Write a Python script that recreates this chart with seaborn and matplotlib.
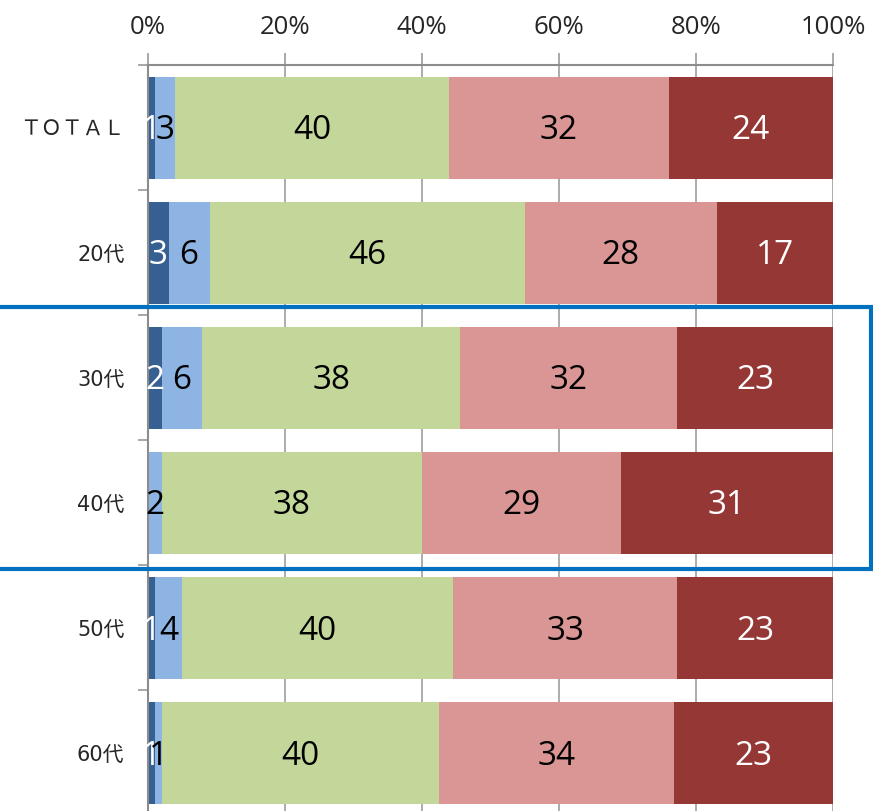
import numpy as np
import pandas as pd
import matplotlib
matplotlib.use("Agg")
import matplotlib.pyplot as plt
from matplotlib.patches import Rectangle
import seaborn as sns

sns.set_theme(style="white")
plt.rcParams['font.family'] = ['Noto Sans CJK JP', 'DejaVu Sans']

# Survey answers by age group (percent, rounded)
categories = ["ＴＯＴＡＬ", "20代", "30代", "40代", "50代", "60代"]
seg1 = [1, 3, 2, 0, 1, 1]
seg2 = [3, 6, 6, 2, 4, 1]
seg3 = [40, 46, 38, 38, 40, 40]
seg4 = [32, 28, 32, 29, 33, 34]
seg5 = [24, 17, 23, 31, 23, 23]
xticks = [0, 20, 40, 60, 80, 100]

series = [seg1, seg2, seg3, seg4, seg5]
colors = ["#376092", "#8EB4E3", "#C4D79B", "#D99694", "#953735"]
label_colors = ["white", "black", "black", "black", "white"]

vals = np.array(series, dtype=float)          # shape (5, n)
share = vals / vals.sum(axis=0) * 100          # 100% stacked
cum = np.cumsum(share, axis=0)

W, H = 873, 811
fig = plt.figure(figsize=(W / 100, H / 100), dpi=100)
ax = fig.add_axes([148 / W, 1 - 815.5 / H, (833 - 148) / W, (815.5 - 65) / H])

# draw from the longest cumulative layer down so each shorter one sits on top
for i in range(len(series) - 1, -1, -1):
    df = pd.DataFrame({"cat": categories, "x": cum[i]})
    sns.barplot(data=df, x="x", y="cat", orient="h", color=colors[i],
                saturation=1, width=0.816, ax=ax, zorder=3, linewidth=0)

# value labels centred on each segment
for i in range(len(series)):
    left = cum[i] - share[i]
    for j, cat in enumerate(categories):
        if series[i][j] == 0:
            continue
        ax.text(left[j] + share[i][j] / 2, j + 0.025, str(series[i][j]),
                ha="center", va="center", fontsize=24,
                color=label_colors[i], zorder=5,
                family=["Open Sans", "DejaVu Sans"])

ax.set_xlim(0, 100)
ax.set_ylim(len(categories) - 0.5, -0.5)
ax.xaxis.tick_top()
ax.set_xticks(xticks)
ax.set_xticklabels([f"{t}%" for t in xticks], fontsize=18.5,
                   family=["Open Sans", "DejaVu Sans"])
ax.tick_params(axis="x", length=9, width=1.2, color="#9A9A9A", pad=9)
ax.xaxis.grid(True, color="#A6A6A6", linewidth=1.3, zorder=0)
ax.set_axisbelow(True)

# category ticks sit between the bars
ax.set_yticks(np.arange(len(categories)))
ax.set_yticklabels(categories, fontsize=15,
                   family=["DejaVu Sans", "Noto Sans CJK JP"])
ax.set_yticks(np.arange(len(categories) + 1) - 0.5, minor=True)
ax.tick_params(axis="y", which="major", length=0, pad=17)
ax.tick_params(axis="y", which="minor", length=7, width=1.2,
               color="#9A9A9A", left=True)
ax.set_xlabel("")
ax.set_ylabel("")

for side in ["right", "bottom"]:
    ax.spines[side].set_visible(False)
for side in ["left", "top"]:
    ax.spines[side].set_color("#8C8C8C")
    ax.spines[side].set_linewidth(1.5)
    ax.spines[side].set_zorder(4)

# highlight box around the 30s and 40s rows
fig.patches.append(Rectangle((-5 / W, 1 - 569 / H), (871 + 5) / W, (569 - 307) / H,
                             transform=fig.transFigure, fill=False,
                             edgecolor="#0070C0", linewidth=3, zorder=10))

fig.savefig("out.png", dpi=100)
